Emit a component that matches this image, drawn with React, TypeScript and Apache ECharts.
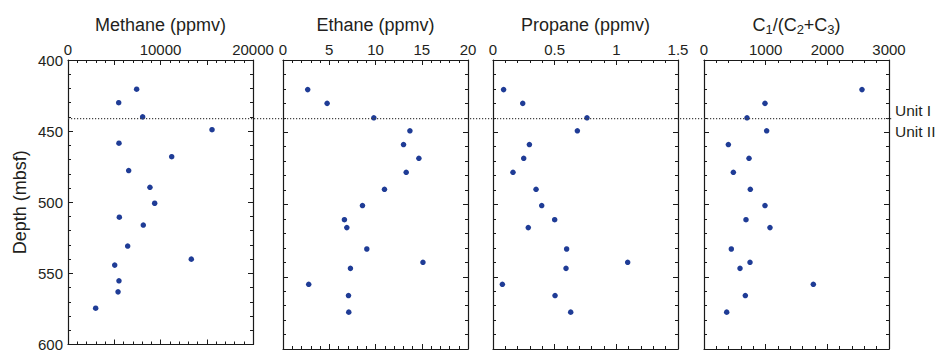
import React, { useEffect, useRef } from "react";
import * as echarts from "echarts";

const depths = [420.5, 430, 440, 449, 458.5, 468, 477.7, 489.5, 500.7, 510.5, 516, 530.8, 540, 544.2, 555.2, 563, 574.5];
const methane = [7420, 5480, 8070, 15570, 5510, 11210, 6560, 8860, 9370, 5550, 8140, 6450, 13330, 5050, 5510, 5410, 2990];
const ethane = [2.67, 4.77, 9.82, 13.72, 13.03, 14.69, 13.32, 10.97, 8.59, 6.64, 6.9, 9.06, 15.13, 7.29, 2.78, 7.08, 7.11];
const propane = [0.086, 0.241, 0.762, 0.684, 0.295, 0.249, 0.162, 0.349, 0.395, 0.5, 0.286, 0.597, 1.092, 0.592, 0.076, 0.503, 0.63];
const ratio = [2562, 989, 697, 1016, 395, 730, 476, 751, 989, 681, 1070, 443, 746, 584, 1773, 670, 368];

const depthMin = 400;
const depthMax = 600;
const depthInterval = 50;
const unitBoundary = 441.2;
const unitLabels = ["Unit I", "Unit II"];
const depthTitle = "Depth (mbsf)";

const panelTitles = [
  "{m|Methane (ppmv)}",
  "{m|Ethane (ppmv)}",
  "{m|Propane (ppmv)}",
  "{m|C}{s|1}{m|/(C}{s|2}{m|+C}{s|3}{m|)}",
];
const panelMax = [20000, 20, 1.5, 3000];
const panelInterval = [5000, 5, 0.5, 1000];
const panelLabelStep = [10000, 5, 0.5, 1000];
const panelValues = [methane, ethane, propane, ratio];

const gridLefts = [68, 283, 493, 704];
const gridWidth = 185;
const gridTop = 60;
const gridHeight = 289;

const FONT = "'Liberation Sans', Arial, Helvetica, sans-serif";
const INK = "#1a1a1a";
const DOT = "#1f3c96";

function tickParts() {
  return {
    axisLine: { show: true, onZero: false, lineStyle: { color: INK, width: 1.2 } },
    axisTick: { show: true, inside: true, length: 5, lineStyle: { color: INK, width: 1 } },
    minorTick: { show: true, splitNumber: 5, length: 3, lineStyle: { color: INK, width: 1 } },
    splitLine: { show: false },
    minorSplitLine: { show: false },
  };
}

export default function App() {
  const ref = useRef<HTMLDivElement>(null);
  useEffect(() => {
    if (!ref.current) return;
    const chart = echarts.init(ref.current, null, { renderer: "svg" });

    const grids: any[] = [];
    const xAxes: any[] = [];
    const yAxes: any[] = [];
    const series: any[] = [];

    panelValues.forEach((vals, i) => {
      grids.push({ left: gridLefts[i], top: gridTop, width: gridWidth, height: gridHeight, containLabel: false });
      const step = panelLabelStep[i];
      xAxes.push({
        type: "value",
        gridIndex: i,
        position: "top",
        min: 0,
        max: panelMax[i],
        interval: panelInterval[i],
        ...tickParts(),
        axisLabel: {
          show: true,
          fontSize: 15,
          fontFamily: FONT,
          color: "#231f20",
          margin: 3,
          formatter: (v: number) => {
            const r = v / step;
            return Math.abs(r - Math.round(r)) < 1e-6 ? String(+v.toFixed(2)) : "";
          },
        },
        name: panelTitles[i],
        nameLocation: "middle",
        nameGap: 24,
        nameTextStyle: {
          fontFamily: FONT,
          color: "#231f20",
          rich: {
            m: { fontSize: 18, lineHeight: 22, fontFamily: FONT, color: "#231f20" },
            s: { fontSize: 13, lineHeight: 13, fontFamily: FONT, color: "#231f20", verticalAlign: "bottom" },
          },
        },
      });
      xAxes.push({
        type: "value",
        gridIndex: i,
        position: "bottom",
        min: 0,
        max: panelMax[i],
        interval: panelInterval[i],
        ...tickParts(),
        axisLabel: { show: false },
      });
      yAxes.push({
        type: "value",
        gridIndex: i,
        position: "left",
        inverse: true,
        min: depthMin,
        max: depthMax,
        interval: depthInterval,
        ...tickParts(),
        axisLabel: {
          show: i === 0,
          fontSize: 15,
          fontFamily: FONT,
          color: "#231f20",
          margin: 5,
        },
        name: i === 0 ? depthTitle : "",
        nameLocation: "middle",
        nameRotate: 90,
        nameGap: 39,
        nameTextStyle: { fontSize: 18, fontFamily: FONT, color: "#231f20" },
      });
      yAxes.push({
        type: "value",
        gridIndex: i,
        position: "right",
        inverse: true,
        min: depthMin,
        max: depthMax,
        interval: depthInterval,
        ...tickParts(),
        axisLabel: { show: false },
      });
      series.push({
        type: "scatter",
        xAxisIndex: i * 2,
        yAxisIndex: i * 2,
        symbol: "circle",
        symbolSize: 5.5,
        itemStyle: { color: DOT, opacity: 1 },
        data: vals.map((v, k) => [v, depths[k]]),
      });
    });

    chart.setOption({
      animation: false,
      backgroundColor: "#ffffff",
      textStyle: { fontFamily: FONT },
      grid: grids,
      xAxis: xAxes,
      yAxis: yAxes,
      series,
    });

    const y = chart.convertToPixel({ yAxisIndex: 0 }, unitBoundary) as number;
    const x0 = chart.convertToPixel({ xAxisIndex: 0 }, 0) as number;
    const x1 = (chart.convertToPixel({ xAxisIndex: 6 }, panelMax[3]) as number) + 4;
    chart.setOption({
      graphic: [
        {
          type: "line",
          shape: { x1: x0, y1: y, x2: x1, y2: y },
          style: { stroke: "#444", lineWidth: 1.2, lineDash: [1.2, 1.8] },
          z: 10,
        },
        {
          type: "text",
          x: x1 + 2,
          y: y - 8,
          style: { text: unitLabels[0], fontSize: 15.5, fontFamily: FONT, fill: "#231f20", verticalAlign: "middle", align: "left" },
        },
        {
          type: "text",
          x: x1 + 2,
          y: y + 12.5,
          style: { text: unitLabels[1], fontSize: 15.5, fontFamily: FONT, fill: "#231f20", verticalAlign: "middle", align: "left" },
        },
      ],
    });

    return () => chart.dispose();
  }, []);
  return <div ref={ref} style={{ position: "fixed", left: 0, top: 0, width: 936, height: 352 }} />;
}
